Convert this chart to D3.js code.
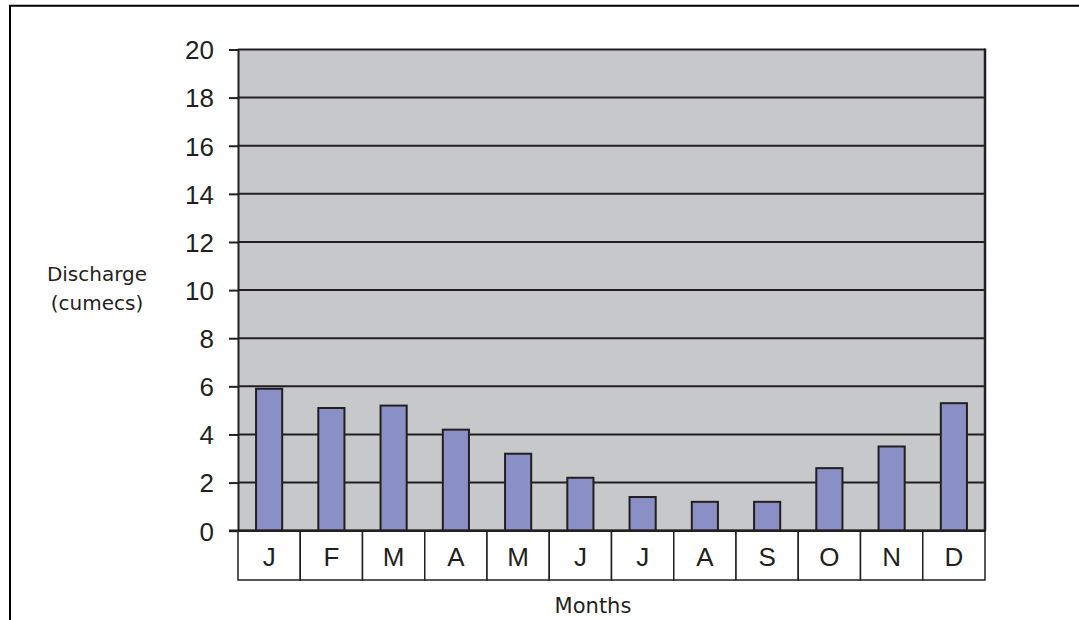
<!DOCTYPE html>
<html>
<head>
<meta charset="utf-8">
<script src="https://cdn.jsdelivr.net/npm/d3@7"></script>
<style>
  html, body { margin: 0; padding: 0; background: #fff; }
  svg { display: block; }
</style>
</head>
<body>
<svg id="chart" width="1079" height="620"></svg>
<script>
const months = ["J", "F", "M", "A", "M", "J", "J", "A", "S", "O", "N", "D"];
const discharge = [5.9, 5.1, 5.2, 4.2, 3.2, 2.2, 1.4, 1.2, 1.2, 2.6, 3.5, 5.3];
const yTicks = [0, 2, 4, 6, 8, 10, 12, 14, 16, 18, 20];
const yTitle = ["Discharge", "(cumecs)"];
const xTitle = "Months";

(function () {
const svg = d3.select("#chart");
const pL = 238, pR = 985, pT = 49.5, pB = 530.7, tableBottom = 580;
const dark = "#231f20";

// outer frame (only top and left visible in frame)
svg.append("path")
  .attr("d", `M10,620 L10,5.7 L1079,5.7`)
  .attr("fill", "none").attr("stroke", "#000").attr("stroke-width", 2);

const x = d3.scaleBand().domain(d3.range(months.length)).range([pL, pR]).paddingInner(0.58).paddingOuter(0.29);
const xCell = d3.scaleBand().domain(d3.range(months.length)).range([pL, pR]).padding(0);
const y = d3.scaleLinear().domain([0, 20]).range([pB, pT]);

// plot background
svg.append("rect").attr("x", pL).attr("y", pT).attr("width", pR - pL).attr("height", pB - pT)
  .attr("fill", "#c7c8ca");

// gridlines
svg.append("g").selectAll("line").data(yTicks).join("line")
  .attr("x1", pL).attr("x2", pR)
  .attr("y1", d => y(d)).attr("y2", d => y(d))
  .attr("stroke", dark).attr("stroke-width", 2);

// bars
svg.append("g").selectAll("rect").data(discharge).join("rect")
  .attr("x", (d, i) => x(i)).attr("width", x.bandwidth())
  .attr("y", d => y(d)).attr("height", d => y(0) - y(d))
  .attr("fill", "#8a8fc6").attr("stroke", dark).attr("stroke-width", 2);

// right border of plot
svg.append("line").attr("x1", pR).attr("x2", pR).attr("y1", pT - 1).attr("y2", pB)
  .attr("stroke", dark).attr("stroke-width", 2.5);

// y axis
const yAxis = d3.axisLeft(y).tickValues(yTicks).tickSize(9).tickPadding(15).tickSizeOuter(0);
const gy = svg.append("g").attr("transform", `translate(${pL},0)`).call(yAxis);
gy.select(".domain").attr("stroke", dark).attr("stroke-width", 2);
gy.selectAll(".tick line").attr("stroke", dark).attr("stroke-width", 2);
gy.selectAll(".tick text").attr("font-family", "'Liberation Sans', Arial, sans-serif")
  .attr("font-size", 26).attr("fill", dark).attr("dy", "0.36em");

// category table
const table = svg.append("g");
table.selectAll("rect").data(months).join("rect")
  .attr("x", (d, i) => xCell(i)).attr("width", xCell.bandwidth())
  .attr("y", pB).attr("height", tableBottom - pB)
  .attr("fill", "#fff").attr("stroke", dark).attr("stroke-width", 1.5);
table.selectAll("text").data(months).join("text")
  .attr("x", (d, i) => xCell(i) + xCell.bandwidth() / 2).attr("y", 566)
  .attr("text-anchor", "middle")
  .attr("font-family", "'Liberation Sans', Arial, sans-serif").attr("font-size", 26).attr("fill", dark)
  .text(d => d);

// baseline at 0
svg.append("line").attr("x1", pL - 9).attr("x2", pR + 1).attr("y1", y(0)).attr("y2", y(0))
  .attr("stroke", dark).attr("stroke-width", 2.5);

// axis titles
svg.append("text").attr("x", 97).attr("y", 281).attr("text-anchor", "middle")
  .attr("font-family", "'DejaVu Sans', Verdana, sans-serif").attr("font-size", 20).attr("fill", dark)
  .selectAll("tspan").data(yTitle).join("tspan")
  .attr("x", 97).attr("dy", (d, i) => i === 0 ? 0 : 29).text(d => d);

svg.append("text").attr("x", 593).attr("y", 612.5).attr("text-anchor", "middle")
  .attr("font-family", "'DejaVu Sans', Verdana, sans-serif").attr("font-size", 21).attr("fill", dark)
  .text(xTitle);
})();
</script>
</body>
</html>
